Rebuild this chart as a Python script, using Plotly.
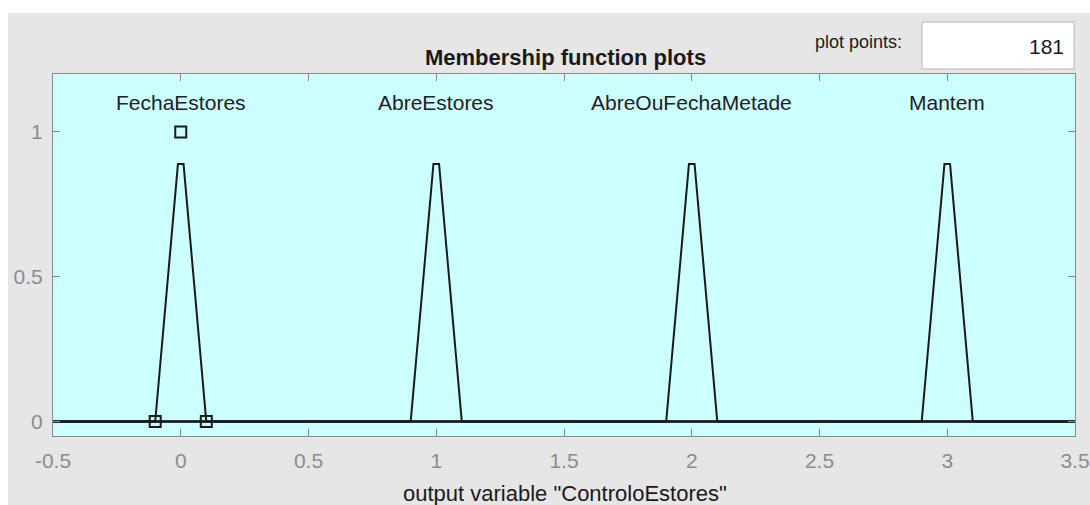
import plotly.graph_objects as go

# ---- data ----
mf_names = ["FechaEstores", "AbreEstores", "AbreOuFechaMetade", "Mantem"]
mf_label_x = [0, 1, 2, 3]
mf_label_y = [1.1, 1.1, 1.1, 1.1]

fecha_x = [-0.5, -0.1, -0.011, 0.011, 0.1, 3.5]
fecha_y = [0, 0, 0.889, 0.889, 0, 0]
abre_x = [-0.5, 0.9, 0.989, 1.011, 1.1, 3.5]
abre_y = [0, 0, 0.889, 0.889, 0, 0]
metade_x = [-0.5, 1.9, 1.989, 2.011, 2.1, 3.5]
metade_y = [0, 0, 0.889, 0.889, 0, 0]
mantem_x = [-0.5, 2.9, 2.989, 3.011, 3.1, 3.5]
mantem_y = [0, 0, 0.889, 0.889, 0, 0]

marker_x = [0, -0.1, 0.1]
marker_y = [1, 0, 0]

x_ticks = [-0.5, 0, 0.5, 1, 1.5, 2, 2.5, 3, 3.5]
x_ticktext = ["-0.5", "0", "0.5", "1", "1.5", "2", "2.5", "3", "3.5"]
y_ticks = [0, 0.5, 1]
y_ticktext = ["0", "0.5", "1"]

plot_points = "181"

FONT = "Liberation Sans, Arial, sans-serif"
LINE = "#1a1a1a"
AX = "#8a8a8a"
TXT = "#222222"

fig = go.Figure()
for xs, ys in [(fecha_x, fecha_y), (abre_x, abre_y), (metade_x, metade_y), (mantem_x, mantem_y)]:
    fig.add_trace(go.Scatter(x=xs, y=ys, mode="lines",
                             line=dict(color=LINE, width=2), hoverinfo="skip",
                             showlegend=False))
fig.add_trace(go.Scatter(x=marker_x, y=marker_y, mode="markers",
                         marker=dict(symbol="square-open", size=11,
                                     color=LINE, line=dict(color=LINE, width=2)),
                         showlegend=False))

for name, lx, ly in zip(mf_names, mf_label_x, mf_label_y):
    fig.add_annotation(x=lx, y=ly, xref="x", yref="y", text=name, showarrow=False,
                       xanchor="center", yanchor="middle",
                       font=dict(family=FONT, size=21, color=TXT))

W, H = 1090, 505
L, R, T, B = 53, 1075, 74, 436
pw, ph = R - L, B - T


def px(x):
    return (x - L) / pw


def py(y):
    return (B - y) / ph


shapes = [
    # white border strips (top and left) around the gray figure
    dict(type="rect", xref="paper", yref="paper", x0=px(-5), x1=px(W + 5), y0=py(13), y1=py(-5),
         fillcolor="white", line=dict(width=0), layer="below"),
    dict(type="rect", xref="paper", yref="paper", x0=px(-5), x1=px(8), y0=py(H + 5), y1=py(-5),
         fillcolor="white", line=dict(width=0), layer="below"),
    # plot points box
    dict(type="rect", xref="paper", yref="paper", x0=px(922), x1=px(1074), y0=py(69), y1=py(22),
         fillcolor="white", line=dict(color="#b4b4b4", width=1), layer="below"),
]

annotations = [
    dict(x=px(565), y=py(58), text="<b>Membership function plots</b>",
         font=dict(family=FONT, size=22, color="#1a1a1a")),
    dict(x=px(858), y=py(42), text="plot points:",
         font=dict(family=FONT, size=18, color="#1a1a1a")),
    dict(x=px(1066), y=py(47), text=plot_points, xanchor="right",
         font=dict(family=FONT, size=21, color="#1a1a1a")),
    dict(x=px(565), y=py(493), text='output variable "ControloEstores"',
         font=dict(family=FONT, size=22, color="#1a1a1a")),
]
for a in annotations:
    a.setdefault("xanchor", "center")
    fig.add_annotation(xref="paper", yref="paper", showarrow=False, yanchor="middle", **a)

fig.update_layout(
    width=W, height=H,
    margin=dict(l=L, r=W - R, t=T, b=H - B, pad=0, autoexpand=False),
    paper_bgcolor="#e6e6e6",
    plot_bgcolor="#ccffff",
    shapes=shapes,
    font=dict(family=FONT),
    showlegend=False,
)
fig.update_xaxes(range=[-0.5, 3.5], tickvals=x_ticks, ticktext=x_ticktext, automargin=False,
                 ticks="inside", ticklen=7, tickcolor=AX, showgrid=False, zeroline=False,
                 showline=True, linecolor=AX, linewidth=1, mirror="ticks",
                 ticklabeloverflow="allow",
                 tickfont=dict(family=FONT, size=21, color="#8c8c8c"), ticklabelstandoff=6)
fig.update_yaxes(range=[-0.05, 1.2], tickvals=y_ticks, ticktext=y_ticktext, automargin=False,
                 ticks="inside", ticklen=7, tickcolor=AX, showgrid=False, zeroline=False,
                 showline=True, linecolor=AX, linewidth=1, mirror="ticks",
                 tickfont=dict(family=FONT, size=21, color="#8c8c8c"), ticklabelstandoff=5)

fig.write_html("out.html", config={"displayModeBar": False},
               post_script="document.body.style.margin='0';document.body.style.overflow='hidden';")
